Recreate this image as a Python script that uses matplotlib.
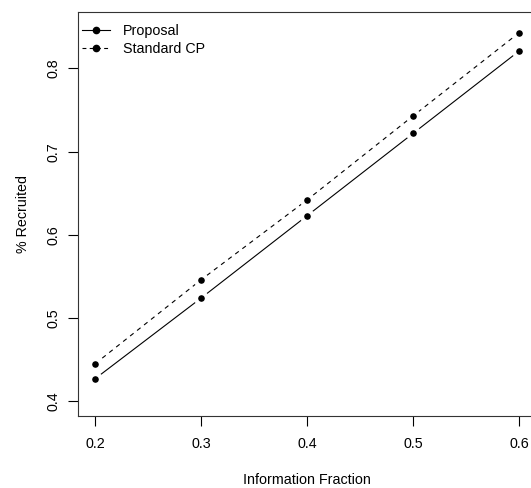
import matplotlib
matplotlib.use("Agg")
import matplotlib.pyplot as plt
from matplotlib.lines import Line2D

plt.rcParams['font.family'] = ['Liberation Sans', 'DejaVu Sans']

# data
info_frac = [0.2, 0.3, 0.4, 0.5, 0.6]
proposal = [0.427, 0.524, 0.623, 0.722, 0.821]
standard_cp = [0.445, 0.546, 0.642, 0.743, 0.843]
xticks = [0.2, 0.3, 0.4, 0.5, 0.6]
yticks = [0.4, 0.5, 0.6, 0.7, 0.8]

fig = plt.figure(figsize=(5.31, 4.88), dpi=100)
ax = fig.add_axes([0.1475, 0.1475, 0.862, 0.828])

# R type="b": points with gaps in the line -> white ring around markers
kw = dict(color='black', lw=0.8, marker='o', markersize=7.8,
          markerfacecolor='black', markeredgecolor='white', markeredgewidth=3.0)
ax.plot(info_frac, proposal, ls='-', **kw)
ax.plot(info_frac, standard_cp, ls=(0, (4, 4)), **kw)

# R-style axis ranges (4% padding)
ax.set_xlim(0.184, 0.616)
ax.set_ylim(0.382, 0.868)
ax.set_xticks(xticks)
ax.set_xticklabels([str(v) for v in xticks])
ax.set_yticks(yticks)
ax.set_yticklabels([str(v) for v in yticks], rotation=90, va='center')
ax.tick_params(direction='out', length=7, width=0.8, labelsize=10.3, pad=8,
               colors='black')
ax.tick_params(axis='y', pad=6)
for s in ax.spines.values():
    s.set_linewidth(0.8)
    s.set_color('#333333')

ax.set_xlabel('Information Fraction', fontsize=10.3, labelpad=16)
ax.set_ylabel('% Recruited', fontsize=10.3, labelpad=12)

handles = [
    Line2D([], [], color='black', lw=0.8, ls='-', marker='o', markersize=4.5),
    Line2D([], [], color='black', lw=0.8, ls=(0, (3.5, 3)), marker='o', markersize=4.5),
]
ax.legend(handles, ['Proposal', 'Standard CP'], loc='upper left', frameon=False,
          bbox_to_anchor=(0.008, 0.97), borderaxespad=0, borderpad=0,
          fontsize=10.3, handlelength=1.95, handletextpad=0.9, labelspacing=0.3)

fig.savefig('out.png', dpi=100)
